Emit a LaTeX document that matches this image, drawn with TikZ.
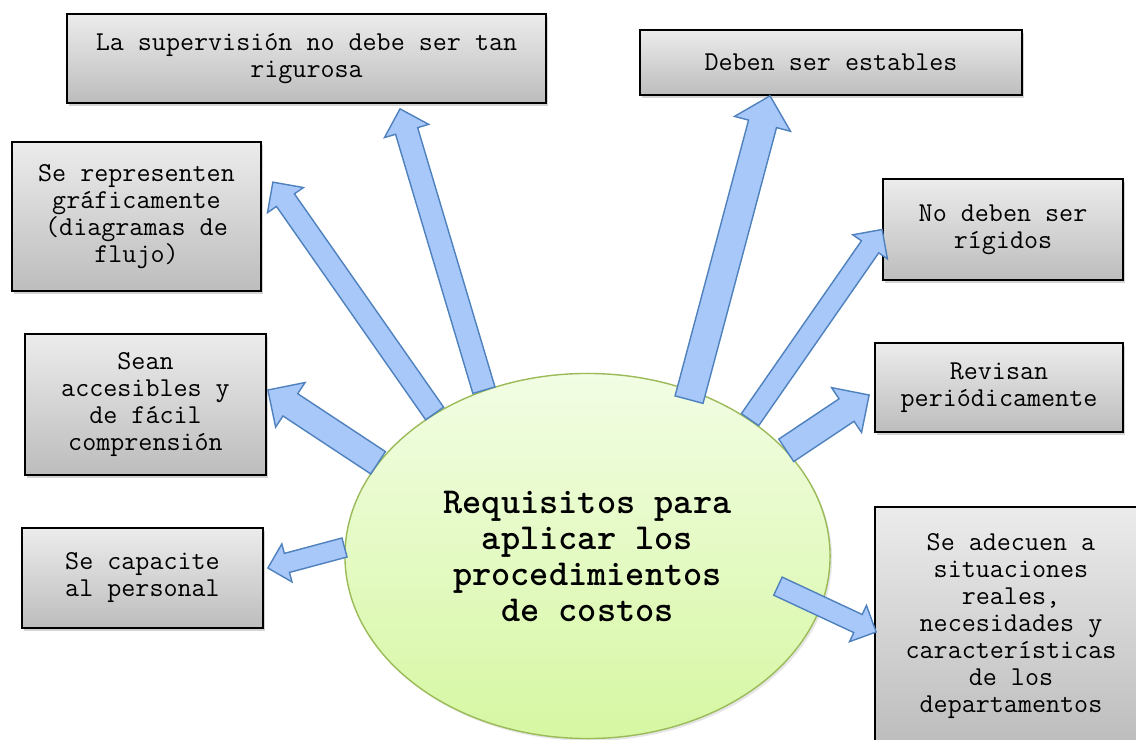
\documentclass[tikz,border=0pt]{standalone}
\usepackage{fontspec}
\usetikzlibrary{calc,shapes.geometric,shadows}

\definecolor{bordeflecha}{RGB}{79,129,189}
\definecolor{rellenoflecha}{RGB}{168,200,250}
\definecolor{bordeelipse}{RGB}{155,187,89}
\definecolor{elipsearriba}{RGB}{242,253,228}
\definecolor{elipseabajo}{RGB}{214,247,162}

\tikzset{
    caja/.style={draw=black, line width=1.2pt, top color=gray!15, bottom color=gray!52,
        align=center, font=\ttfamily\fontsize{19.4}{19.2}\selectfont,
        drop shadow={shadow xshift=0.06cm, shadow yshift=-0.08cm, opacity=0.35}},
    flecha/.style={draw=bordeflecha, fill=rellenoflecha, line width=1pt, line join=miter},
}

% flecha de bloque: semiancho del cuerpo, origen, punta
\newcommand{\flecha}[3]{%
    \path[flecha] let \p1=($(#3)-(#2)$), \n1={atan2(\y1,\x1)}, \n2={veclen(\x1,\y1)} in
        ($(#2)+(\n1+90:#1)$) --
        ($(#2)+(\n1:\n2-2*#1)+(\n1+90:#1)$) --
        ($(#2)+(\n1:\n2-2*#1)+(\n1+90:2*#1)$) --
        (#3) --
        ($(#2)+(\n1:\n2-2*#1)+(\n1-90:2*#1)$) --
        ($(#2)+(\n1:\n2-2*#1)+(\n1-90:#1)$) --
        ($(#2)+(\n1-90:#1)$) -- cycle;}

\begin{document}
\begin{tikzpicture}[x=0.025cm, y=-0.025cm]
    \useasboundingbox (0,0) rectangle (1136,740);
    \clip (0,0) rectangle (1136,740);
    % Elipse central
    \node[ellipse, draw=bordeelipse, line width=1pt, top color=elipsearriba, bottom color=elipseabajo,
        minimum width=12.125cm, minimum height=9.125cm, inner sep=0pt, align=center,
        font=\ttfamily\bfseries\fontsize{26}{25.6}\selectfont,
        drop shadow={shadow xshift=0.05cm, shadow yshift=-0.06cm, opacity=0.2}]
        (centro) at (587.5,556) {Requisitos para\\aplicar los\\procedimientos\\de costos};
    % Cajas de la izquierda
    \node[caja, minimum width=11.975cm, minimum height=2.225cm] (supervision) at (306.5,58.5)
        {La supervisión no debe ser tan\\rigurosa};
    \node[caja, minimum width=6.225cm, minimum height=3.725cm] (graficos) at (136.5,216.5)
        {Se representen\\gráficamente\\(diagramas de\\flujo)};
    \node[caja, minimum width=6.025cm, minimum height=3.525cm] (accesibles) at (145.5,404.5)
        {Sean\\accesibles y\\de fácil\\comprensión};
    \node[caja, minimum width=6.025cm, minimum height=2.5cm] (capacite) at (142.5,578)
        {Se capacite\\al personal};
    % Cajas de la derecha
    \node[caja, minimum width=9.55cm, minimum height=1.625cm] (estables) at (831,62.5)
        {Deben ser estables};
    \node[caja, minimum width=6.0cm, minimum height=2.525cm] (rigidos) at (1003,229.5)
        {No deben ser\\rígidos};
    \node[caja, minimum width=6.2cm, minimum height=2.225cm] (revisan) at (999,387.5)
        {Revisan\\periódicamente};
    \node[caja, minimum width=6.8cm, minimum height=5.95cm] (adecuen) at (1011,626)
        {Se adecuen a\\situaciones\\reales,\\necesidades y\\características\\de los\\departamentos};
    % Puntas de las flechas
    \coordinate (p1) at ([shift={(93.5,5)}]supervision.south);
    \coordinate (p2) at ([shift={(11,41)}]graficos.north east);
    \coordinate (p3) at ([shift={(1,-14.5)}]accesibles.east);
    \coordinate (p4) at ([shift={(4,-10)}]capacite.east);
    \coordinate (p5) at ([shift={(-61,0)}]estables.south);
    \coordinate (p6) at (rigidos.west);
    \coordinate (p7) at ([shift={(-5,7.5)}]revisan.west);
    \coordinate (p8) at ([shift={(2,6)}]adecuen.west);
    % Flechas
    \flecha{8.2pt}{centro.122}{p1}
    \flecha{7.8pt}{centro.137}{p2}
    \flecha{9.5pt}{centro.156}{p3}
    \flecha{7pt}{centro.178}{p4}
    \flecha{10.3pt}{$(centro.center)!0.95!(centro.57)$}{p5}
    \flecha{7.5pt}{centro.40}{p6}
    \flecha{9.6pt}{centro.28}{p7}
    \flecha{7.1pt}{$(centro.center)!0.8!(centro.-9)$}{p8}
\end{tikzpicture}
\end{document}
